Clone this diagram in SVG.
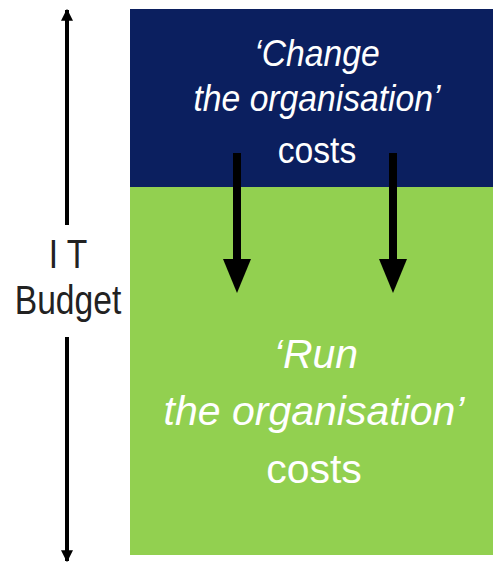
<svg xmlns="http://www.w3.org/2000/svg" width="493" height="562" viewBox="0 0 493 562">
<style>
.lbl{font-family:"Liberation Sans",Arial,sans-serif;fill:#ffffff;text-anchor:middle}
.it{font-style:italic}
.side{font-family:"Liberation Sans",Arial,sans-serif;fill:#222222;text-anchor:middle;font-size:41px}
.conn{stroke:#000;fill:none}
.head{fill:#000}
</style>
<defs>
<marker id="sm" viewBox="0 0 10 10" refX="9" refY="5" markerWidth="3" markerHeight="3" orient="auto" markerUnits="strokeWidth">
<path d="M0,0 L10,5 L0,10 z" fill="#000"/>
</marker>
</defs>
<rect width="493" height="562" fill="#ffffff"/>
<g id="change">
<rect x="130" y="9" width="363" height="178" fill="#0b1f5f"/>
<g transform="translate(317 0) scale(0.91 1)">
<text class="lbl it" x="0" y="66" font-size="37">‘Change</text>
<text class="lbl it" x="0" y="111" font-size="37">the organisation’</text>
<text class="lbl" x="0" y="163" font-size="37">costs</text>
</g>
</g>
<g id="run">
<rect x="130" y="187" width="363" height="368" fill="#92d050"/>
<text class="lbl it" x="316" y="368" font-size="41">‘Run</text>
<text class="lbl it" x="314" y="425" font-size="41">the organisation’</text>
<text class="lbl" x="314" y="483" font-size="41">costs</text>
</g>
<g id="budget">
<g transform="translate(68 0) scale(0.82 1)">
<text class="side" x="0" y="268">I T</text>
<text class="side" x="0" y="314">Budget</text>
</g>
</g>
<g id="connectors">
<line class="conn" x1="67" y1="225" x2="67" y2="10" stroke-width="4" marker-end="url(#sm)"/>
<line class="conn" x1="67" y1="337" x2="67" y2="561" stroke-width="4" marker-end="url(#sm)"/>
<line class="conn" x1="237" y1="153" x2="237" y2="262" stroke-width="8"/>
<polygon class="head" points="223,259 251,259 237,293"/>
<line class="conn" x1="393" y1="153" x2="393" y2="262" stroke-width="8"/>
<polygon class="head" points="379,259 407,259 393,293"/>
</g>
</svg>
